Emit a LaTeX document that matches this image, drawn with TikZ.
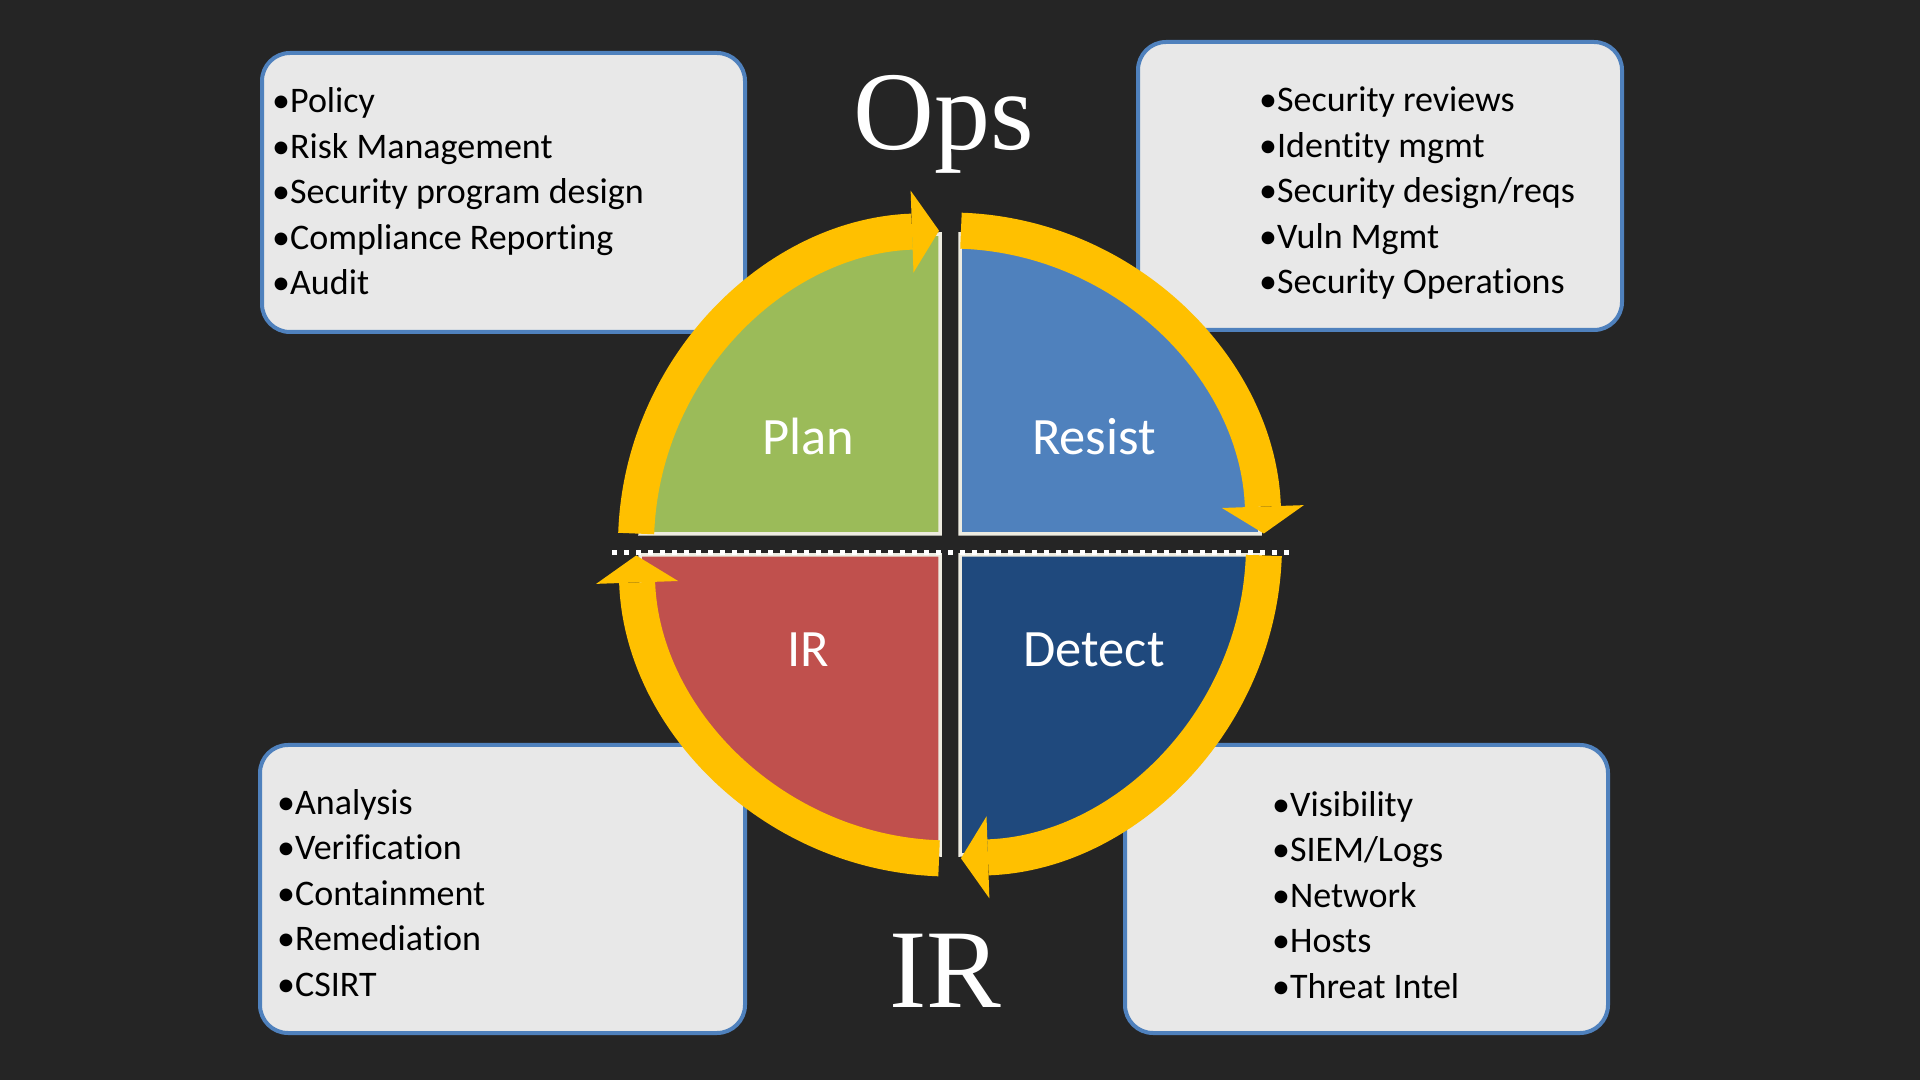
\documentclass[tikz,border=0pt]{standalone}
\usepackage{xcolor}
\usepackage{fontspec}
\usepackage{tikz}
\usetikzlibrary{arrows.meta}
\setmainfont{Carlito}[Ligatures=NoCommon]
\newfontfamily\titlefont{Liberation Serif}
\definecolor{boardbg}{HTML}{252525}
\definecolor{cardfill}{HTML}{E8E8E8}
\definecolor{cardline}{HTML}{4F81BD}
\definecolor{cycleyellow}{HTML}{FFC000}
\definecolor{planfill}{HTML}{9BBB59}
\definecolor{resistfill}{HTML}{4F81BD}
\definecolor{irfill}{HTML}{C0504D}
\definecolor{detectfill}{HTML}{1F497D}
\definecolor{quadedge}{HTML}{EEECE1}

\begin{document}
\begin{tikzpicture}[x=1pt,y=1pt,
  card/.style={draw=cardline,fill=cardfill,rounded corners=28pt,line width=4pt,inner sep=0pt},
  cardtext/.style={align=left,inner sep=0pt,anchor=base west,font=\fontsize{36}{45.5}\selectfont},
  quadrant/.style={draw=quadedge,line width=3.5pt},
  quadlabel/.style={text=white,anchor=base,font=\fontsize{52.5}{60}\selectfont},
  cyclearc/.style={draw=cycleyellow,line width=36pt,-{Triangle[length=27pt,width=82pt,line width=0pt]}},
  bigword/.style={text=white,anchor=base,font=\titlefont\fontsize{112}{120}\selectfont}]
\fill[boardbg] (0,0) rectangle (1920,1080);
\node[card,minimum width=483pt,minimum height=279pt] (boxplan) at (503.5,887.5) {};
\node[card,minimum width=484pt,minimum height=288pt] (boxresist) at (1380,894) {};
\node[card,minimum width=485pt,minimum height=288pt] (boxir) at (502.5,191) {};
\node[card,minimum width=483pt,minimum height=288pt] (boxdetect) at (1366.5,191) {};
\node[cardtext] (listplan) at ([shift={(12,-244)}]boxplan.north west) {•Policy\\•Risk Management\\•Security program design\\•Compliance Reporting\\•Audit};
\node[cardtext] (listresist) at ([shift={(123,-254)}]boxresist.north west) {•Security reviews\\•Identity mgmt\\•Security design/reqs\\•Vuln Mgmt\\•Security Operations};
\node[cardtext] (listir) at ([shift={(19,-253)}]boxir.north west) {•Analysis\\•Verification\\•Containment\\•Remediation\\•CSIRT};
\node[cardtext] (listdetect) at ([shift={(149,-255)}]boxdetect.north west) {•Visibility\\•SIEM/Logs\\•Network\\•Hosts\\•Threat Intel};
\coordinate (hub) at (950,535.5);
\filldraw[quadrant,fill=planfill] (940,546) -- ++(-300,0) arc[start angle=180,end angle=90,radius=300] -- cycle;
\filldraw[quadrant,fill=resistfill] (960,546) -- ++(0,300) arc[start angle=90,end angle=0,radius=300] -- cycle;
\filldraw[quadrant,fill=detectfill] (960,525) -- ++(300,0) arc[start angle=0,end angle=-90,radius=300] -- cycle;
\filldraw[quadrant,fill=irfill] (940,525) -- ++(0,-300) arc[start angle=-90,end angle=-180,radius=300] -- cycle;
\draw[cyclearc] ([shift={(178:314)}]hub) arc[start angle=178,end angle=92,radius=314];
\draw[cyclearc] ([shift={(88:314)}]hub) arc[start angle=88,end angle=2,radius=314];
\draw[cyclearc] ([shift={(-2:314)}]hub) arc[start angle=-2,end angle=-88,radius=314];
\draw[cyclearc] ([shift={(-92:314)}]hub) arc[start angle=-92,end angle=-178,radius=314];
\node[quadlabel] (lblplan) at (808,625) {Plan};
\node[quadlabel] (lblresist) at (1094,625) {Resist};
\node[quadlabel] (lblir) at (808,413) {IR};
\node[quadlabel] (lbldetect) at (1094,413) {Detect};
\coordinate (divleft) at (612,527.5);
\coordinate (divright) at (1292,527.5);
\draw[white,line width=5pt,dash pattern=on 5pt off 7pt] (divleft) -- (divright);
\node[bigword] (titleops) at (944,930) {Ops};
\node[bigword] (titleir) at (945,73) {IR};
\end{tikzpicture}
\end{document}
